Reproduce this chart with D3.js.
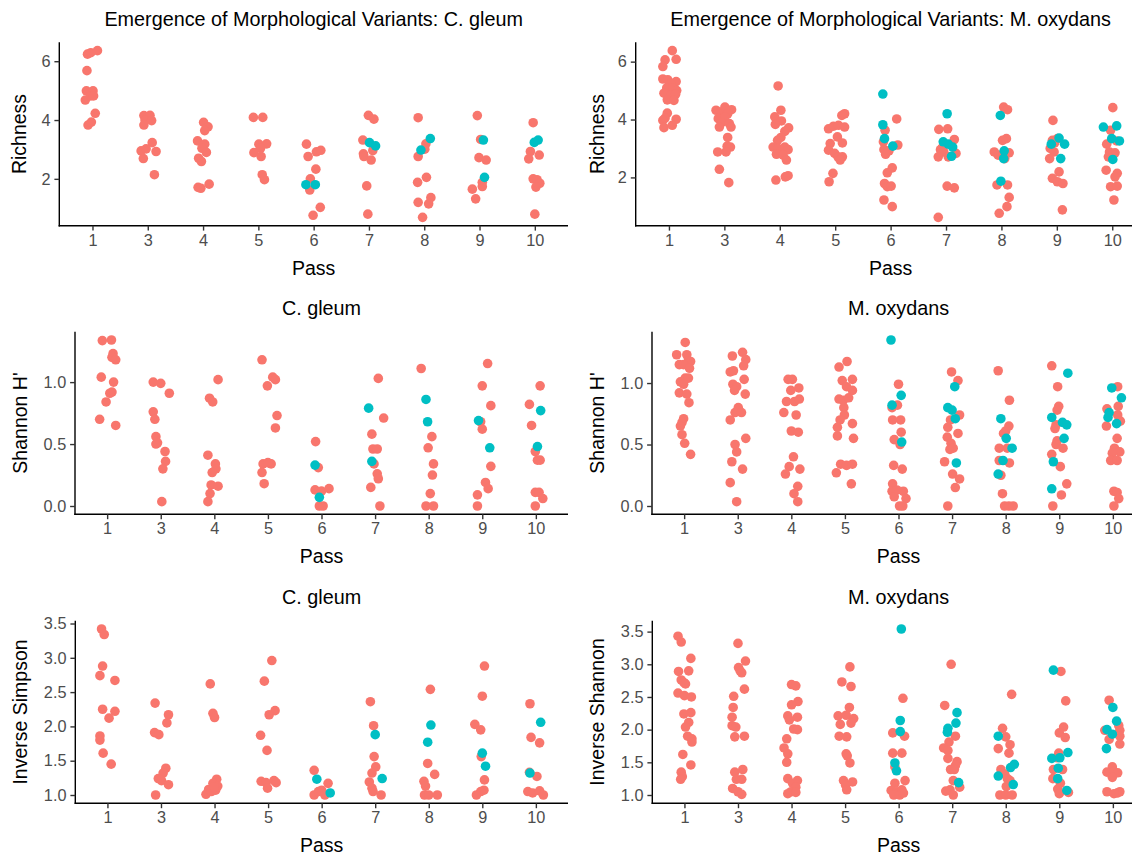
<!DOCTYPE html>
<html>
<head>
<meta charset="utf-8">
<script src="https://cdn.jsdelivr.net/npm/d3@7"></script>
<style>
  html, body { margin: 0; padding: 0; background: #fff; }
  svg { display: block; }
  text { font-family: "Liberation Sans", Arial, Helvetica, sans-serif; }
</style>
</head>
<body>
<svg id="chart" width="1132" height="855"></svg>
<script>
// Passes sampled (category axis)
const passes = [1, 3, 4, 5, 6, 7, 8, 9, 10];

// Each row: [pass, jitter (fraction of category step), value]
// "base" = original morphotype, "variant" = emergent morphological variant

// ---- C. gleum: Richness ----
const gleumRichnessBase = [
  [1,-0.09,6.24],[1,-0.03,6.29],[1,0.09,6.36],[1,-0.10,5.68],[1,-0.11,4.99],[1,0.01,4.99],[1,-0.13,4.68],[1,-0.03,4.82],[1,0.02,4.82],[1,0.05,4.23],[1,-0.08,3.83],[1,-0.02,3.93],
  [3,-0.07,4.15],[3,0.04,4.16],[3,-0.05,4.00],[3,0.07,3.98],[3,-0.07,3.83],[3,0.08,3.23],[3,-0.12,2.95],[3,-0.03,3.02],[3,0.15,2.93],[3,-0.08,2.69],[3,0.12,2.14],
  [4,0.01,3.92],[4,0.09,3.77],[4,0.03,3.64],[4,-0.10,3.29],[4,0.03,3.18],[4,-0.02,3.04],[4,0.06,2.90],[4,-0.08,2.70],[4,-0.03,2.59],[4,-0.09,1.71],[4,0.11,1.82],[4,-0.04,1.68],
  [5,-0.09,4.09],[5,0.08,4.09],[5,0.01,3.18],[5,0.15,3.19],[5,0.04,3.04],[5,-0.08,2.89],[5,0.05,2.76],[5,0.07,2.14],[5,0.11,1.97],
  [6,-0.13,3.18],[6,-0.10,2.76],[6,0.05,2.92],[6,0.13,2.97],[6,0.04,2.33],[6,-0.06,2.00],[6,-0.07,1.62],[6,-0.01,0.76],[6,0.12,1.03],
  [7,-0.01,4.16],[7,0.09,4.03],[7,-0.11,3.32],[7,-0.10,2.85],[7,-0.09,2.76],[7,0.07,2.96],[7,0.04,2.64],[7,-0.04,1.76],[7,-0.02,0.80],
  [8,-0.11,4.08],[8,0.03,3.19],[8,0.01,3.01],[8,-0.11,2.76],[8,-0.12,1.88],[8,0.04,2.05],[8,-0.11,1.20],[8,0.08,1.15],[8,0.12,1.36],[8,-0.03,0.69],
  [9,-0.04,4.15],[9,0.02,3.34],[9,-0.01,2.72],[9,0.12,2.64],[9,0.05,1.88],[9,0.05,1.74],[9,-0.13,1.65],[9,-0.07,1.32],
  [10,-0.03,3.91],[10,-0.08,2.93],[10,0.08,2.81],[10,-0.11,2.68],[10,-0.03,2.00],[10,0.04,1.97],[10,0.09,1.85],[10,0.02,1.72],[10,0.00,0.80]
];
const gleumRichnessVariant = [
  [6,-0.14,1.80],[6,0.03,1.80],[7,0.01,3.23],[7,0.12,3.12],[8,0.11,3.37],[8,-0.06,2.98],
  [9,0.07,3.32],[9,0.09,2.05],[10,-0.01,3.24],[10,0.06,3.32]
];

// ---- M. oxydans: Richness ----
const oxydansRichnessBase = [
  [1,0.06,6.38],[1,-0.07,6.06],[1,0.13,6.08],[1,-0.11,5.83],[1,-0.11,5.40],[1,-0.02,5.37],[1,0.13,5.31],[1,0.03,5.23],[1,-0.04,5.09],[1,0.07,5.09],[1,0.14,5.00],[1,-0.09,4.91],[1,0.04,4.83],[1,0.12,4.87],[1,-0.03,4.68],[1,0.09,4.66],[1,-0.03,4.22],[1,-0.07,4.05],[1,-0.11,3.97],[1,0.13,4.01],[1,-0.09,3.72],[1,0.06,3.80],
  [3,-0.15,4.32],[3,-0.07,4.26],[3,0.01,4.43],[3,0.13,4.34],[3,0.06,4.20],[3,-0.11,4.03],[3,0.01,4.09],[3,-0.05,3.89],[3,-0.09,3.74],[3,0.09,3.86],[3,0.12,3.74],[3,0.06,3.38],[3,-0.12,2.88],[3,0.05,3.08],[3,0.11,3.05],[3,0.03,2.88],[3,-0.09,2.28],[3,0.08,1.82],
  [4,-0.03,5.16],[4,0.02,4.32],[4,-0.09,4.09],[4,0.03,3.95],[4,-0.08,3.83],[4,0.16,3.71],[4,0.09,3.59],[4,0.02,3.38],[4,-0.04,3.28],[4,-0.12,3.05],[4,-0.03,3.00],[4,0.09,3.05],[4,0.15,2.96],[4,-0.06,2.80],[4,0.06,2.77],[4,0.12,2.60],[4,-0.07,1.91],[4,0.10,2.02],[4,0.15,2.06],
  [5,0.17,4.20],[5,0.12,4.14],[5,-0.12,3.68],[5,-0.03,3.77],[5,0.06,3.80],[5,0.17,3.74],[5,0.04,3.40],[5,0.13,3.19],[5,-0.09,3.17],[5,-0.12,2.94],[5,-0.01,2.83],[5,0.05,2.71],[5,0.13,2.71],[5,0.09,2.60],[5,-0.04,2.14],[5,-0.11,1.85],
  [6,0.11,4.02],[6,-0.10,3.63],[6,-0.13,3.23],[6,-0.12,2.96],[6,-0.03,2.92],[6,0.13,3.12],[6,-0.09,2.80],[6,0.03,2.33],[6,-0.06,2.16],[6,-0.11,1.79],[6,-0.06,1.68],[6,0.01,1.70],[6,-0.12,1.22],[6,0.03,0.99],
  [7,-0.13,3.66],[7,0.03,3.68],[7,0.15,3.31],[7,-0.06,3.05],[7,-0.10,2.96],[7,-0.04,2.88],[7,-0.14,2.71],[7,0.04,2.71],[7,0.18,2.83],[7,0.02,1.70],[7,0.15,1.64],[7,-0.14,0.62],
  [8,0.04,4.43],[8,0.11,4.34],[8,0.09,3.34],[8,0.02,3.28],[8,-0.13,2.88],[8,-0.06,2.77],[8,0.14,2.85],[8,0.06,2.65],[8,-0.08,1.74],[8,0.11,1.74],[8,0.14,1.31],[8,0.10,0.99],[8,-0.04,0.76],
  [9,-0.07,3.97],[9,0.01,3.34],[9,-0.04,3.19],[9,-0.08,3.28],[9,-0.12,3.00],[9,-0.05,2.88],[9,-0.13,2.65],[9,0.04,2.19],[9,-0.08,1.97],[9,0.01,1.85],[9,0.11,1.79],[9,0.10,0.88],
  [10,0.01,4.41],[10,-0.03,3.63],[10,0.08,3.26],[10,-0.10,3.15],[10,-0.05,2.88],[10,0.05,2.85],[10,-0.07,2.71],[10,-0.11,2.25],[10,0.09,2.14],[10,0.05,2.02],[10,-0.03,1.68],[10,0.09,1.70],[10,0.03,1.22]
];
const oxydansRichnessVariant = [
  [6,-0.14,4.88],[6,-0.14,3.82],[6,-0.11,3.34],[6,0.04,3.08],
  [7,0.02,4.20],[7,-0.05,3.23],[7,0.04,3.15],[7,0.12,3.05],[7,0.10,2.73],
  [8,-0.02,4.14],[8,0.05,2.92],[8,0.04,2.65],[8,-0.01,1.87],
  [9,0.04,3.36],[9,-0.10,3.15],[9,0.14,3.15],[9,0.07,2.65],
  [10,-0.16,3.74],[10,0.08,3.78],[10,-0.01,3.34],[10,0.13,3.26],[10,0.01,2.62]
];

// ---- C. gleum: Shannon H' ----
const gleumShannonBase = [
  [1,-0.09,1.335],[1,0.08,1.34],[1,0.11,1.23],[1,0.09,1.20],[1,0.16,1.18],[1,-0.11,1.04],[1,0.12,1.00],[1,0.09,0.92],[1,0.05,0.91],[1,-0.02,0.84],[1,-0.14,0.70],[1,0.16,0.65],
  [3,-0.14,1.00],[3,0.00,0.99],[3,0.16,0.91],[3,-0.14,0.76],[3,-0.11,0.70],[3,-0.09,0.56],[3,-0.09,0.50],[3,-0.06,0.51],[3,0.08,0.44],[3,0.09,0.36],[3,0.04,0.30],[3,0.02,0.035],
  [4,0.07,1.02],[4,-0.09,0.87],[4,-0.03,0.84],[4,-0.12,0.41],[4,0.02,0.34],[4,0.03,0.30],[4,-0.04,0.27],[4,-0.06,0.17],[4,0.07,0.16],[4,-0.08,0.10],[4,-0.12,0.035],
  [5,-0.11,1.18],[5,0.09,1.04],[5,0.14,1.02],[5,-0.01,0.97],[5,0.17,0.73],[5,0.14,0.63],[5,-0.09,0.34],[5,0.06,0.34],[5,0.00,0.35],[5,-0.11,0.27],[5,-0.07,0.18],
  [6,-0.11,0.52],[6,-0.06,0.31],[6,-0.12,0.13],[6,0.00,0.12],[6,0.14,0.14],[6,-0.04,0.00],[6,0.03,0.00],
  [7,0.06,1.03],[7,0.16,0.71],[7,-0.06,0.58],[7,-0.04,0.46],[7,0.04,0.46],[7,-0.02,0.34],[7,0.04,0.26],[7,0.06,0.22],[7,-0.08,0.15],[7,0.09,0.00],
  [8,-0.14,1.11],[8,0.06,0.56],[8,-0.01,0.47],[8,0.09,0.34],[8,0.07,0.25],[8,0.03,0.10],[8,-0.05,0.00],[8,0.09,0.00],
  [9,0.10,1.15],[9,0.00,0.97],[9,0.16,0.81],[9,-0.03,0.68],[9,0.00,0.62],[9,0.16,0.32],[9,0.06,0.19],[9,0.11,0.14],[9,-0.09,0.09],[9,-0.09,0.00],
  [10,0.08,0.97],[10,-0.12,0.82],[10,-0.08,0.65],[10,-0.01,0.44],[10,0.03,0.37],[10,0.08,0.37],[10,-0.01,0.11],[10,0.06,0.11],[10,0.13,0.06],[10,-0.01,0.00]
];
const gleumShannonVariant = [
  [6,-0.12,0.33],[6,-0.04,0.07],[7,-0.12,0.79],[7,-0.06,0.36],[8,-0.05,0.86],[8,-0.02,0.68],
  [9,-0.07,0.69],[9,0.14,0.47],[10,0.09,0.77],[10,0.03,0.48]
];

// ---- M. oxydans: Shannon H' ----
const oxydansShannonBase = [
  [1,0.02,1.33],[1,-0.14,1.23],[1,0.05,1.23],[1,-0.09,1.15],[1,0.08,1.18],[1,0.12,1.175],[1,-0.01,1.15],[1,0.10,1.12],[1,0.02,1.04],[1,0.08,1.04],[1,-0.07,1.01],[1,-0.01,0.99],[1,-0.09,0.92],[1,0.05,0.91],[1,0.09,0.84],[1,-0.01,0.71],[1,-0.04,0.68],[1,-0.07,0.65],[1,-0.04,0.58],[1,0.01,0.51],[1,0.12,0.42],
  [3,0.09,1.25],[3,-0.10,1.22],[3,0.15,1.19],[3,0.11,1.14],[3,-0.14,1.09],[3,-0.08,1.10],[3,-0.09,0.99],[3,-0.02,0.97],[3,0.12,1.03],[3,-0.06,0.94],[3,0.14,0.91],[3,0.01,0.80],[3,-0.05,0.76],[3,0.07,0.76],[3,-0.14,0.70],[3,0.15,0.55],[3,-0.05,0.50],[3,-0.02,0.44],[3,-0.11,0.36],[3,0.09,0.30],[3,-0.14,0.19],[3,-0.02,0.035],
  [4,-0.06,1.03],[4,0.02,1.03],[4,-0.01,0.94],[4,0.14,0.96],[4,-0.09,0.85],[4,0.06,0.85],[4,0.15,0.87],[4,-0.14,0.76],[4,0.09,0.74],[4,0.00,0.61],[4,0.13,0.60],[4,0.04,0.40],[4,-0.04,0.32],[4,-0.11,0.26],[4,0.16,0.30],[4,0.12,0.16],[4,0.05,0.10],[4,0.12,0.035],
  [5,0.04,1.175],[5,-0.11,1.13],[5,-0.05,1.02],[5,0.14,1.03],[5,0.03,0.97],[5,0.14,0.94],[5,-0.11,0.87],[5,-0.03,0.86],[5,0.07,0.88],[5,-0.02,0.80],[5,-0.01,0.74],[5,-0.09,0.70],[5,0.14,0.67],[5,-0.14,0.64],[5,-0.14,0.57],[5,0.16,0.55],[5,-0.08,0.34],[5,0.03,0.33],[5,0.14,0.34],[5,-0.16,0.27],[5,0.12,0.18],
  [6,0.00,0.99],[6,-0.02,0.82],[6,-0.12,0.80],[6,-0.11,0.70],[6,0.04,0.70],[6,0.05,0.60],[6,-0.08,0.54],[6,0.03,0.50],[6,-0.09,0.33],[6,0.07,0.30],[6,-0.11,0.18],[6,-0.12,0.12],[6,-0.03,0.13],[6,0.09,0.12],[6,-0.08,0.075],[6,0.14,0.06],[6,0.02,0.00],[6,0.08,0.00],
  [7,-0.01,1.09],[7,0.11,1.02],[7,-0.03,0.70],[7,0.14,0.74],[7,-0.08,0.64],[7,0.11,0.59],[7,-0.09,0.56],[7,-0.02,0.51],[7,-0.04,0.46],[7,0.02,0.47],[7,-0.14,0.36],[7,0.01,0.26],[7,0.14,0.22],[7,0.06,0.15],[7,-0.08,0.00],
  [8,-0.14,1.10],[8,0.07,0.86],[8,0.06,0.65],[8,0.00,0.61],[8,-0.04,0.59],[8,-0.12,0.47],[8,0.03,0.47],[8,-0.12,0.37],[8,0.07,0.35],[8,-0.09,0.25],[8,-0.06,0.10],[8,-0.02,0.00],[8,0.06,0.00],[8,0.14,0.00],
  [9,-0.14,1.14],[9,-0.03,0.97],[9,-0.01,0.81],[9,-0.04,0.78],[9,-0.06,0.66],[9,-0.08,0.63],[9,-0.04,0.53],[9,-0.06,0.50],[9,0.07,0.47],[9,-0.14,0.42],[9,0.02,0.32],[9,0.14,0.18],[9,0.04,0.09],[9,-0.12,0.00],
  [10,0.09,0.97],[10,0.10,0.81],[10,-0.11,0.79],[10,0.09,0.74],[10,0.14,0.69],[10,-0.12,0.65],[10,0.08,0.55],[10,0.03,0.47],[10,0.13,0.44],[10,-0.01,0.43],[10,-0.04,0.37],[10,0.08,0.37],[10,0.02,0.12],[10,0.08,0.11],[10,0.11,0.06],[10,0.02,0.00]
];
const oxydansShannonVariant = [
  [6,-0.14,1.35],[6,0.05,0.90],[6,-0.12,0.82],[6,0.06,0.52],
  [7,0.05,0.97],[7,-0.08,0.80],[7,0.00,0.78],[7,0.06,0.71],[7,0.08,0.35],
  [8,-0.09,0.71],[8,0.01,0.55],[8,0.12,0.47],[8,-0.05,0.37],[8,-0.14,0.26],
  [9,0.16,1.08],[9,-0.14,0.72],[9,0.06,0.68],[9,0.14,0.66],[9,0.09,0.55],[9,-0.11,0.36],[9,-0.14,0.14],
  [10,-0.02,0.96],[10,0.16,0.88],[10,-0.07,0.76],[10,-0.09,0.72],[10,0.07,0.67]
];

// ---- C. gleum: Inverse Simpson ----
const gleumInvSimpsonBase = [
  [1,-0.11,3.42],[1,-0.06,3.34],[1,-0.09,2.88],[1,-0.14,2.74],[1,0.14,2.67],[1,-0.09,2.25],[1,0.14,2.22],[1,0.03,2.12],[1,-0.14,1.86],[1,-0.14,1.80],[1,-0.08,1.61],[1,0.07,1.45],
  [3,-0.11,2.34],[3,0.14,2.17],[3,0.11,2.05],[3,-0.12,1.91],[3,-0.04,1.88],[3,0.09,1.39],[3,0.04,1.32],[3,-0.05,1.24],[3,0.01,1.21],[3,0.14,1.15],[3,-0.10,1.00],
  [4,-0.08,2.62],[4,-0.03,2.19],[4,0.00,2.13],[4,0.04,1.23],[4,-0.03,1.17],[4,0.06,1.13],[4,-0.11,1.08],[4,-0.16,1.01],[4,0.02,1.07],[4,-0.06,1.05],[4,-0.01,1.12],
  [5,0.07,2.96],[5,-0.07,2.66],[5,0.13,2.23],[5,0.02,2.17],[5,-0.14,1.87],[5,-0.02,1.65],[5,-0.13,1.20],[5,-0.04,1.18],[5,-0.01,1.10],[5,0.11,1.21],[5,0.15,1.18],
  [6,-0.14,1.36],[6,0.12,1.17],[6,-0.14,1.00],[6,-0.06,1.05],[6,0.00,1.07],[6,0.06,1.00],
  [7,-0.09,2.36],[7,-0.03,2.01],[7,-0.02,1.56],[7,0.01,1.41],[7,-0.06,1.32],[7,-0.11,1.19],[7,-0.06,1.10],[7,-0.04,1.05],[7,0.11,1.00],
  [8,0.03,2.54],[8,-0.02,1.46],[8,0.11,1.30],[8,-0.09,1.20],[8,-0.06,1.13],[8,-0.08,1.00],[8,0.00,1.00],[8,0.16,1.00],
  [9,0.04,2.88],[9,0.00,2.44],[9,-0.14,2.03],[9,-0.03,1.95],[9,-0.02,1.56],[9,0.04,1.22],[9,0.03,1.07],[9,-0.03,1.05],[9,-0.11,1.00],
  [10,-0.11,2.33],[10,-0.09,1.84],[10,0.07,1.76],[10,0.02,1.27],[10,-0.12,1.33],[10,-0.15,1.05],[10,-0.06,1.03],[10,0.07,1.06],[10,0.14,1.00]
];
const gleumInvSimpsonVariant = [
  [6,-0.09,1.23],[6,0.16,1.03],[7,0.00,1.88],[7,0.13,1.24],[8,0.04,2.02],[8,-0.02,1.77],
  [9,0.00,1.61],[9,0.06,1.42],[10,0.09,2.06],[10,-0.11,1.32]
];

// ---- M. oxydans: Inverse Shannon ----
const oxydansInvShannonBase = [
  [1,-0.12,3.43],[1,-0.06,3.34],[1,0.12,3.09],[1,-0.11,2.89],[1,0.08,2.90],[1,-0.06,2.76],[1,-0.01,2.72],[1,0.02,2.70],[1,-0.12,2.56],[1,0.00,2.52],[1,0.13,2.50],[1,-0.01,2.24],[1,0.12,2.26],[1,0.08,2.11],[1,0.02,2.04],[1,0.06,1.90],[1,0.14,1.86],[1,0.14,1.81],[1,-0.03,1.62],[1,0.12,1.46],[1,-0.06,1.35],[1,-0.04,1.28],[1,-0.07,1.24],
  [3,0.00,3.32],[3,0.14,3.05],[3,0.01,2.95],[3,0.04,2.90],[3,0.07,2.87],[3,0.12,2.62],[3,-0.08,2.51],[3,-0.09,2.34],[3,-0.11,2.19],[3,-0.11,2.06],[3,-0.04,2.04],[3,-0.06,1.89],[3,0.12,1.90],[3,0.09,1.39],[3,-0.06,1.35],[3,0.07,1.24],[3,-0.03,1.24],[3,-0.10,1.10],[3,0.00,1.05],[3,0.07,1.01],
  [4,0.00,2.69],[4,0.08,2.67],[4,0.12,2.43],[4,0.00,2.38],[4,-0.07,2.21],[4,0.11,2.19],[4,-0.04,2.15],[4,0.04,2.01],[4,0.11,2.00],[4,-0.09,1.86],[4,-0.14,1.72],[4,-0.07,1.63],[4,-0.09,1.50],[4,-0.07,1.25],[4,0.11,1.22],[4,0.02,1.18],[4,0.08,1.12],[4,-0.01,1.05],[4,-0.07,1.02],[4,0.08,1.04],
  [5,0.09,2.96],[5,-0.06,2.73],[5,0.11,2.66],[5,0.08,2.34],[5,-0.13,2.21],[5,0.02,2.22],[5,0.16,2.17],[5,0.11,2.10],[5,-0.09,2.08],[5,-0.11,1.90],[5,0.03,1.89],[5,0.02,1.63],[5,0.04,1.60],[5,0.09,1.49],[5,-0.03,1.22],[5,0.14,1.20],[5,0.01,1.15],[5,0.03,1.08],
  [6,0.08,2.48],[6,-0.11,1.95],[6,0.11,1.90],[6,-0.11,1.64],[6,0.06,1.64],[6,-0.07,1.43],[6,0.12,1.22],[6,-0.07,1.18],[6,-0.14,1.07],[6,-0.03,1.05],[6,0.06,1.08],[6,-0.09,1.00],[6,0.02,1.00],[6,0.09,1.03],
  [7,-0.02,3.00],[7,-0.14,2.37],[7,0.06,1.90],[7,-0.06,1.81],[7,-0.16,1.72],[7,-0.08,1.68],[7,-0.08,1.56],[7,0.09,1.51],[7,0.06,1.45],[7,-0.03,1.39],[7,0.04,1.39],[7,0.02,1.22],[7,-0.12,1.06],[7,-0.04,1.08],[7,0.14,1.12],[7,0.02,1.00],
  [8,0.11,2.54],[8,-0.06,2.02],[8,0.00,1.89],[8,0.08,1.77],[8,-0.14,1.71],[8,0.06,1.64],[8,-0.09,1.39],[8,-0.02,1.32],[8,0.03,1.25],[8,0.08,1.22],[8,0.01,1.13],[8,-0.11,1.00],[8,0.00,1.00],[8,0.12,1.00],
  [9,0.03,2.89],[9,0.12,2.44],[9,0.08,2.04],[9,0.00,1.95],[9,0.11,1.88],[9,-0.01,1.64],[9,-0.04,1.57],[9,-0.11,1.39],[9,0.06,1.39],[9,-0.12,1.25],[9,0.02,1.18],[9,-0.03,1.09],[9,0.00,1.02],[9,0.17,1.04],
  [10,-0.07,2.45],[10,0.11,2.06],[10,-0.15,1.99],[10,0.13,1.99],[10,0.13,1.90],[10,-0.07,1.85],[10,0.13,1.78],[10,-0.01,1.43],[10,-0.11,1.35],[10,0.02,1.36],[10,0.09,1.34],[10,-0.01,1.27],[10,-0.11,1.05],[10,0.08,1.03],[10,0.13,1.05],[10,0.02,1.02]
];
const oxydansInvShannonVariant = [
  [6,0.05,3.54],[6,0.03,2.14],[6,0.03,1.97],[6,-0.07,1.49],[6,-0.04,1.37],
  [7,0.09,2.26],[7,0.07,2.10],[7,-0.08,2.02],[7,-0.09,1.96],[7,0.12,1.19],
  [8,-0.14,1.90],[8,0.16,1.47],[8,0.09,1.42],[8,-0.14,1.29],[8,0.14,1.16],
  [9,-0.11,2.91],[9,-0.14,1.56],[9,0.01,1.57],[9,0.16,1.65],[9,-0.02,1.41],[9,-0.03,1.25],[9,0.14,1.07],
  [10,0.00,2.34],[10,0.07,2.13],[10,-0.11,2.00],[10,-0.01,1.93],[10,-0.12,1.71]
];

const yTicksRichness = [2, 4, 6];
const yTicksShannon = [0, 0.5, 1.0];
const yTicksInverse = [1.0, 1.5, 2.0, 2.5, 3.0, 3.5];

const colBase = "#F8766D";
const colVariant = "#00BFC4";

const panels = [
  { title: "Emergence of Morphological Variants: C. gleum", yTitle: "Richness",
    base: gleumRichnessBase, variant: gleumRichnessVariant, ticks: yTicksRichness, fmt: d3.format("d"),
    x0: 59.3, x1: 568, y0: 42.3, y1: 225.7, yTitleX: 26 },
  { title: "Emergence of Morphological Variants: M. oxydans", yTitle: "Richness",
    base: oxydansRichnessBase, variant: oxydansRichnessVariant, ticks: yTicksRichness, fmt: d3.format("d"),
    x0: 635.7, x1: 1145.5, y0: 42.3, y1: 225.7, yTitleX: 604 },
  { title: "C. gleum", yTitle: "Shannon H'",
    base: gleumShannonBase, variant: gleumShannonVariant, ticks: yTicksShannon, fmt: d3.format(".1f"),
    x0: 75, x1: 568, y0: 331.7, y1: 514.3, yTitleX: 27 },
  { title: "M. oxydans", yTitle: "Shannon H'",
    base: oxydansShannonBase, variant: oxydansShannonVariant, ticks: yTicksShannon, fmt: d3.format(".1f"),
    x0: 652, x1: 1145, y0: 331.7, y1: 514.3, yTitleX: 604 },
  { title: "C. gleum", yTitle: "Inverse Simpson",
    base: gleumInvSimpsonBase, variant: gleumInvSimpsonVariant, ticks: yTicksInverse, fmt: d3.format(".1f"),
    x0: 75.3, x1: 568, y0: 620.7, y1: 803.3, yTitleX: 27 },
  { title: "M. oxydans", yTitle: "Inverse Shannon",
    base: oxydansInvShannonBase, variant: oxydansInvShannonVariant, ticks: yTicksInverse, fmt: d3.format(".1f"),
    x0: 652.3, x1: 1145, y0: 620.7, y1: 803.3, yTitleX: 604 }
];

const svg = d3.select("#chart");
svg.append("rect").attr("width", 1132).attr("height", 855).attr("fill", "#fff");

function drawPanel(p) {
  const g = svg.append("g");

  // discrete x scale with 0.6-step padding at both ends
  const x = d3.scalePoint().domain(passes).range([p.x0, p.x1]).padding(0.6);
  const vals = p.base.concat(p.variant).map(d => d[2]);
  const [lo, hi] = d3.extent(vals);
  const pad = (hi - lo) * 0.05;
  const y = d3.scaleLinear().domain([lo - pad, hi + pad]).range([p.y1, p.y0]);

  // axes
  const ax = g.append("g").attr("transform", `translate(0,${p.y1})`)
    .call(d3.axisBottom(x).tickSize(4.9).tickSizeOuter(0).tickPadding(3.6));
  const ay = g.append("g").attr("transform", `translate(${p.x0},0)`)
    .call(d3.axisLeft(y).tickValues(p.ticks).tickFormat(p.fmt).tickSize(4.9).tickSizeOuter(0).tickPadding(3.9));

  [ax, ay].forEach(a => {
    a.attr("font-size", null).attr("font-family", null);
    a.select(".domain").attr("stroke", "#000").attr("stroke-width", 1.4);
    a.selectAll(".tick line").attr("stroke", "#333").attr("stroke-width", 1.4);
    a.selectAll(".tick text").attr("fill", "#4D4D4D")
      .style("font-size", "16.3px").style("font-family", "'Liberation Sans', Arial, sans-serif");
  });
  // make axis lines meet at the corner
  ax.select(".domain").attr("d", `M${p.x0 - 0.7},0H${p.x1}`);
  ay.select(".domain").attr("d", `M0,${p.y0}V${p.y1 + 0.7}`);

  // points
  const pts = g.append("g");
  const xPos = d => x(d[0]) + d[1] * x.step();
  pts.selectAll("circle.base").data(p.base).join("circle")
    .attr("class", "base")
    .attr("cx", xPos).attr("cy", d => y(d[2])).attr("r", 4.8)
    .attr("fill", colBase);
  pts.selectAll("circle.variant").data(p.variant).join("circle")
    .attr("class", "variant")
    .attr("cx", xPos).attr("cy", d => y(d[2])).attr("r", 4.8)
    .attr("fill", colVariant);

  // titles
  g.append("text").attr("x", (p.x0 + p.x1) / 2).attr("y", p.y0 - 16.5)
    .attr("text-anchor", "middle").attr("fill", "#000")
    .style("font-size", "19.8px").text(p.title);
  g.append("text").attr("x", (p.x0 + p.x1) / 2).attr("y", p.y1 + 48.8)
    .attr("text-anchor", "middle").attr("fill", "#000")
    .style("font-size", "19.5px").text("Pass");
  const cy = (p.y0 + p.y1) / 2;
  g.append("text").attr("transform", `translate(${p.yTitleX},${cy}) rotate(-90)`)
    .attr("text-anchor", "middle").attr("fill", "#000")
    .style("font-size", "19.5px").text(p.yTitle);
}

panels.forEach(drawPanel);
</script>
</body>
</html>
